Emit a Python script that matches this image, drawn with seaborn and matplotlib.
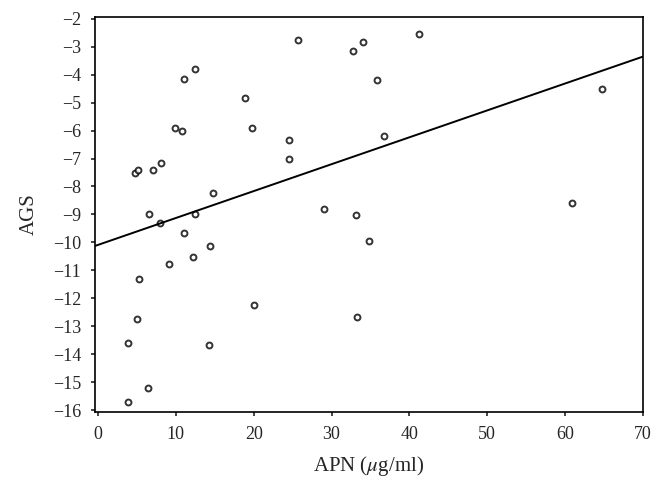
import numpy as np
import pandas as pd
import matplotlib
matplotlib.use("Agg")
import matplotlib.pyplot as plt
import seaborn as sns

# values
apn = [25.7, 34.0, 32.8, 41.3, 12.45, 11.1, 35.9, 18.9, 9.9, 10.8,
       19.8, 24.6, 36.8, 24.5, 4.7, 5.1, 7.0, 8.1, 14.8, 6.5,
       7.9, 12.4, 11.0, 14.4, 29.1, 33.1, 34.8, 64.8, 60.9, 33.3,
       9.1, 12.15, 5.3, 20.1, 5.0, 3.9, 14.2, 6.4, 3.9]
ags = [-2.75, -2.82, -3.15, -2.55, -3.8, -4.15, -4.18, -4.85, -5.92, -6.02,
       -5.92, -6.32, -6.2, -7.0, -7.52, -7.42, -7.42, -7.17, -8.23, -8.98,
       -9.32, -9.0, -9.65, -10.12, -8.8, -9.03, -9.96, -4.5, -8.58, -12.65,
       -10.77, -10.52, -11.3, -12.25, -12.73, -13.58, -13.68, -15.22, -15.7]

x_ticks = list(range(0, 71, 10))
y_ticks = list(range(-16, -1))

df = pd.DataFrame({"APN": apn, "AGS": ags})

sns.set_style("ticks")
plt.rcParams["font.family"] = ["Liberation Serif", "DejaVu Serif"]
plt.rcParams["mathtext.fontset"] = "stix"

fig = plt.figure(figsize=(6.64, 4.93), dpi=100)
ax = fig.add_axes([0.143, 0.164, 0.825, 0.802])
ax.set_xlim(-0.4, 70)
ax.set_ylim(-16.07, -1.93)

sns.regplot(data=df, x="APN", y="AGS", ax=ax, ci=None, truncate=False,
            scatter_kws=dict(s=18, facecolors="white", edgecolors="black", linewidths=1.4),
            line_kws=dict(color="black", lw=1.4))

ax.set_xticks(x_ticks)
ax.set_yticks(y_ticks)
ax.set_xlim(-0.4, 70)
ax.set_ylim(-16.07, -1.93)
ax.set_xlabel(r"APN ($\mu$g/ml)", fontsize=15, labelpad=8)
ax.set_ylabel("AGS", fontsize=15, labelpad=10)
ax.tick_params(labelsize=13, length=3, width=1.2, direction="out", pad=7)
for s in ax.spines.values():
    s.set_visible(True)
    s.set_color("black")
    s.set_linewidth(1.2)

fig.savefig("out.png", dpi=100)
